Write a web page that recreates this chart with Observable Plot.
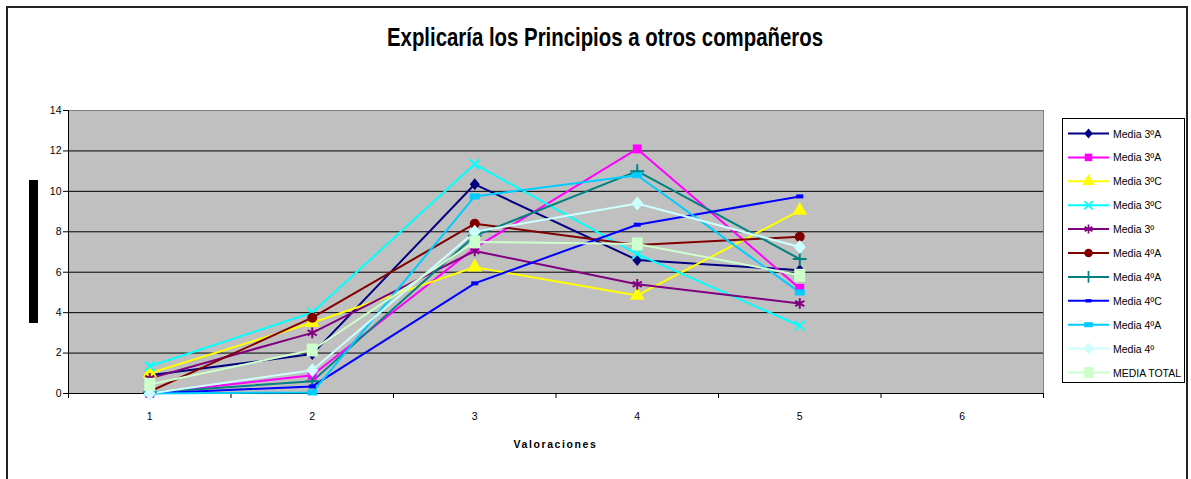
<!DOCTYPE html>
<html><head><meta charset="utf-8">
<script src="https://cdn.jsdelivr.net/npm/d3@7"></script>
<script src="https://cdn.jsdelivr.net/npm/@observablehq/plot@0.6"></script>
<style>
body{margin:0;background:#fff;font-family:"Liberation Sans",Arial,sans-serif;}
#wrap{position:relative;width:1191px;height:479px;overflow:hidden;background:#fff;}
#chart{position:absolute;left:0;top:0;}
#border{position:absolute;left:6px;top:6px;width:1182px;height:520px;border:2px solid #222;box-sizing:border-box;pointer-events:none;}
#title{position:absolute;top:23px;left:0;white-space:nowrap;font-weight:bold;font-size:25px;color:#000;transform-origin:0 0;}
#xlabel{position:absolute;top:438px;left:0;width:1111px;text-align:center;font-weight:bold;font-size:10.5px;letter-spacing:1.6px;}
#ybar{position:absolute;left:29px;top:180px;width:9px;height:143px;background:#000;}
#legend{position:absolute;left:1062px;top:118px;width:123px;height:265px;border:1px solid #000;box-sizing:border-box;background:#fff;}
</style>
</head><body>
<div id="wrap">
  <div id="chart"></div>
  <div id="ybar"></div>
  <div id="title">Explicaría los Principios a otros compañeros</div>
  <div id="xlabel">Valoraciones</div>
  <div id="legend"></div>
  <div id="border"></div>
</div>
<script>
// ---- data ----
const categories = [1, 2, 3, 4, 5];
const xTickLabels = [1, 2, 3, 4, 5, 6];
const yTicks = [0, 2, 4, 6, 8, 10, 12, 14];
const seriesNames = ["Media 3ºA", "Media 3ºA", "Media 3ºC", "Media 3ºC", "Media 3º",
  "Media 4ºA", "Media 4ºA", "Media 4ºC", "Media 4ºA", "Media 4º", "MEDIA TOTAL"];
const media3A_1 = [0.9, 1.95, 10.35, 6.6, 6.1];
const media3A_2 = [0.0, 0.9, 7.2, 12.1, 5.2];
const media3C_1 = [1.0, 3.5, 6.25, 4.85, 9.05];
const media3C_2 = [1.35, 4.0, 11.35, 6.9, 3.35];
const media3 = [0.75, 3.0, 7.05, 5.4, 4.45];
const media4A_1 = [0.1, 3.75, 8.4, 7.35, 7.75];
const media4A_2 = [0.05, 0.6, 7.8, 11.0, 6.65];
const media4C = [0.0, 0.35, 5.45, 8.35, 9.75];
const media4A_3 = [0.0, 0.05, 9.75, 10.8, 5.0];
const media4 = [0.0, 1.15, 8.0, 9.4, 7.25];
const mediaTotal = [0.45, 2.15, 7.5, 7.4, 5.85];
const seriesValues = [media3A_1, media3A_2, media3C_1, media3C_2, media3,
  media4A_1, media4A_2, media4C, media4A_3, media4, mediaTotal];

// ---- styles ----
const rectSym = (w, h) => ({draw(ctx) { ctx.rect(-w / 2, -h / 2, w, h); }});
const diamondSym = (w, h) => ({draw(ctx) {
  ctx.moveTo(0, -h / 2); ctx.lineTo(w / 2, 0); ctx.lineTo(0, h / 2); ctx.lineTo(-w / 2, 0); ctx.closePath();
}});
const styles = [
  {color: "#000080", sym: diamondSym(10, 12), r: 3, filled: true},
  {color: "#FF00FF", sym: "square", r: 5, filled: true},
  {color: "#FFFF00", sym: "triangle", r: 5.5, filled: true},
  {color: "#00FFFF", sym: "times", r: 4.5, filled: false},
  {color: "#800080", sym: "asterisk", r: 5, filled: false},
  {color: "#800000", sym: "circle", r: 5, filled: true},
  {color: "#008080", sym: "plus", r: 4.5, filled: false},
  {color: "#0000FF", sym: rectSym(7, 4), r: 3, filled: true},
  {color: "#00CCFF", sym: rectSym(10, 6), r: 3, filled: true},
  {color: "#CCFFFF", sym: diamondSym(12, 14), r: 3, filled: true},
  {color: "#CCFFCC", sym: rectSym(11, 13), r: 3, filled: true}
];

const table = seriesValues.map((vals, i) => categories.map((c, j) => ({x: c, y: vals[j], s: i})));

const lineMarks = table.map((d, i) => Plot.line(d, {x: "x", y: "y", stroke: styles[i].color, strokeWidth: 2}));
const dotMarks = table.map((d, i) => {
  const st = styles[i];
  return Plot.dot(d, {x: "x", y: "y", symbol: st.sym, r: st.r,
    fill: st.filled ? st.color : "none", stroke: st.filled ? "none" : st.color,
    strokeWidth: st.filled ? 0 : 2});
});

const boundaries = xTickLabels.map(v => v - 0.5).concat([xTickLabels[xTickLabels.length - 1] + 0.5]);

const plot = Plot.plot({
  width: 1191, height: 479,
  marginLeft: 68, marginRight: 148, marginTop: 110, marginBottom: 86,
  x: {domain: [0.5, 6.5]},
  y: {domain: [0, 14]},
  style: {background: "transparent", fontFamily: "Liberation Sans, Arial, sans-serif", fontSize: "10.5px", color: "#000"},
  marks: [
    Plot.frame({fill: "#c0c0c0", stroke: "#808080"}),
    Plot.ruleY(yTicks.filter(v => v > 0 && v < 14), {stroke: "#000", strokeWidth: 1}),
    Plot.ruleY([0], {stroke: "#000"}),
    Plot.ruleX([0.5], {stroke: "#000"}),
    Plot.axisY({ticks: yTicks, tickSize: 5, tickPadding: 2, tickFormat: d => String(d), label: null}),
    Plot.axisX({ticks: xTickLabels, tickSize: 0, tickPadding: 19, tickFormat: d => String(d), label: null}),
    Plot.axisX({ticks: boundaries, tickSize: 5, tickFormat: () => "", label: null}),
    ...lineMarks,
    ...dotMarks
  ]
});
document.getElementById("chart").appendChild(plot);

// ---- title scaling ----
const title = document.getElementById("title");
const tw = title.getBoundingClientRect().width;
const sc = 436 / tw;
title.style.transform = `scaleX(${sc})`;
title.style.left = (605 - 218) + "px";

// ---- legend ----
const symMap = {square: d3.symbolSquare, triangle: d3.symbolTriangle,
  times: d3.symbolTimes, asterisk: d3.symbolAsterisk, circle: d3.symbolCircle, plus: d3.symbolPlus};
const lg = d3.select("#legend").append("svg").attr("width", 121).attr("height", 263);
seriesNames.forEach((name, i) => {
  const st = styles[i];
  const y = 14.5 + i * 23.9;
  const g = lg.append("g").attr("transform", `translate(0,${y})`);
  g.append("line").attr("x1", 5).attr("x2", 46).attr("stroke", st.color).attr("stroke-width", 2);
  const type = typeof st.sym === "string" ? symMap[st.sym] : st.sym;
  g.append("path").attr("transform", "translate(25.5,0) scale(0.85)")
    .attr("d", d3.symbol(type, Math.PI * st.r * st.r)())
    .attr("fill", st.filled ? st.color : "none")
    .attr("stroke", st.filled ? "none" : st.color)
    .attr("stroke-width", st.filled ? 0 : 2);
  g.append("text").attr("x", 50).attr("y", 4).attr("font-size", "10.5px")
    .attr("font-family", "Liberation Sans, Arial, sans-serif")
    .attr("textLength", name === "MEDIA TOTAL" ? 68 : null)
    .attr("lengthAdjust", "spacingAndGlyphs")
    .text(name);
});
</script>
</body></html>
